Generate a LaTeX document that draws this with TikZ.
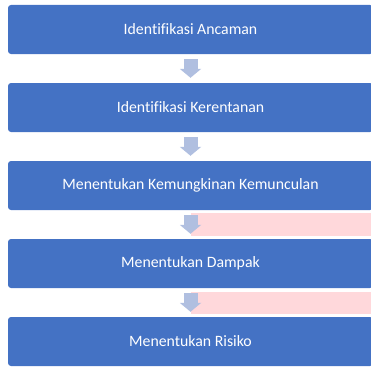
\documentclass[tikz,border=0pt]{standalone}
\usepackage{fontspec}
\setmainfont[Ligatures=NoCommon]{Carlito}
\usetikzlibrary{arrows.meta}
\definecolor{boxblue}{HTML}{4472C4}
\definecolor{arrowblue}{HTML}{B0BFE0}
\definecolor{notepink}{HTML}{FFD8DB}
\begin{document}
\begin{tikzpicture}[x=1pt,y=-1pt,
  main node/.style={rectangle,rounded corners=3pt,fill=boxblue,text=white,
    font=\fontsize{15.8}{18}\selectfont,minimum width=365pt,minimum height=49pt,inner sep=0pt},
  flow/.style={color=arrowblue,line width=14pt,shorten <=5pt,shorten >=5pt,
    -{Triangle[length=9pt,width=21pt]}}]

  \clip (0,0) rectangle (371,369);

  \fill[notepink] (191,213) rectangle (371,236);
  \fill[notepink] (191,292) rectangle (371,314);

  \node[main node] (1) at (190.5,29.5) {Identifikasi Ancaman};
  \node[main node] (2) at (190.5,107.5) {Identifikasi Kerentanan};
  \node[main node] (3) at (190.5,185.5) {Menentukan Kemungkinan Kemunculan};
  \node[main node] (4) at (190.5,263.5) {Menentukan Dampak};
  \node[main node] (5) at (190.5,341.5) {Menentukan Risiko};

  \draw[flow] (1) -- (2);
  \draw[flow] (2) -- (3);
  \draw[flow] (3) -- (4);
  \draw[flow] (4) -- (5);
\end{tikzpicture}
\end{document}
